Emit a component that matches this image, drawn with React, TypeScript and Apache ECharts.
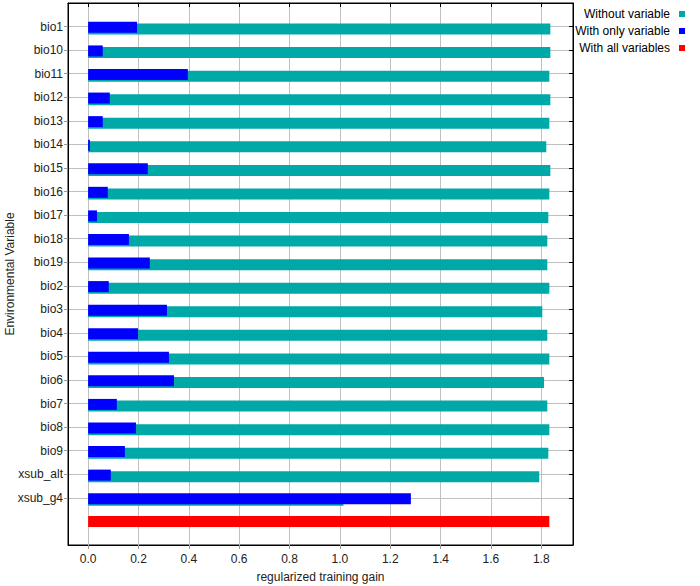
import React, { useEffect, useRef } from "react";
import * as echarts from "echarts";

const variables = [
  "bio1", "bio10", "bio11", "bio12", "bio13", "bio14", "bio15", "bio16", "bio17", "bio18",
  "bio19", "bio2", "bio3", "bio4", "bio5", "bio6", "bio7", "bio8", "bio9", "xsub_alt", "xsub_g4",
];
const withoutVariable = [
  1.836, 1.836, 1.832, 1.836, 1.832, 1.82, 1.836, 1.832, 1.828, 1.824,
  1.824, 1.832, 1.804, 1.824, 1.832, 1.811, 1.824, 1.832, 1.828, 1.792, 1.014,
];
const withOnlyVariable = [
  0.194, 0.058, 0.396, 0.086, 0.058, 0.007, 0.237, 0.078, 0.035, 0.162,
  0.245, 0.082, 0.313, 0.198, 0.321, 0.341, 0.114, 0.19, 0.146, 0.09, 1.282,
];
const withAllVariables = 1.832;
const seriesNames = ["Without variable", "With only variable", "With all variables"];
const colors = ["#00a8a8", "#0000ff", "#ff0000"];

export default function App() {
  const ref = useRef<HTMLDivElement>(null);
  useEffect(() => {
    if (!ref.current) return;
    const chart = echarts.init(ref.current, undefined, { renderer: "svg" });
    const font = "'Liberation Sans', Arial, sans-serif";
    // category rows: a padding row, the variables, the all-variables row, a padding row
    const cats = ["_padTop", ...variables, "_all", "_padBottom"];
    const isVar = (i: number) => i >= 1 && i <= variables.length;
    const padded = (arr: number[]) => ["-", ...arr, "-", "-"];
    const allData = cats.map((c) => (c === "_all" ? withAllVariables : "-"));

    const yBase = {
      type: "category" as const,
      data: cats,
      inverse: true,
      boundaryGap: false,
    };
    const xBase = {
      type: "value" as const,
      min: -0.08,
      max: 1.926,
      splitNumber: 10,
      minInterval: 0.2,
      maxInterval: 0.2,
    };

    chart.setOption({
      animation: false,
      backgroundColor: "#ffffff",
      textStyle: { fontFamily: font },
      grid: {
        left: 68,
        right: 127,
        top: 3,
        bottom: 41,
        outerBoundsMode: "none",
        containLabel: false,
        show: true,
        borderColor: "#000",
        borderWidth: 1,
        backgroundColor: "#fff",
      },
      legend: {
        orient: "vertical",
        right: 10,
        top: 3,
        align: "right",
        itemGap: 5,
        itemWidth: 6,
        itemHeight: 6,
        icon: "rect",
        selectedMode: false,
        data: seriesNames,
        textStyle: { fontFamily: font, fontSize: 12, color: "#000", padding: [0, 4, 0, 0] },
      },
      xAxis: [
        {
          ...xBase,
          position: "bottom",
          name: "regularized training gain",
          nameLocation: "middle",
          nameGap: 26,
          nameMoveOverlap: false,
          nameTextStyle: { fontFamily: font, fontSize: 12, color: "#222" },
          axisLine: { show: true, onZero: false, lineStyle: { color: "#000", width: 1 } },
          axisTick: { show: true, inside: false, length: 4, lineStyle: { color: "#999" } },
          axisLabel: {
            show: true,
            margin: 8,
            fontSize: 12,
            fontFamily: font,
            color: "#222",
            showMinLabel: false,
            showMaxLabel: false,
            formatter: (v: number) => v.toFixed(1),
          },
          splitLine: { show: true, lineStyle: { color: "#c0c0c0", width: 1 } },
        },
        {
          ...xBase,
          position: "top",
          axisLine: { show: true, onZero: false, lineStyle: { color: "#000", width: 1 } },
          axisTick: { show: true, inside: true, length: 4, lineStyle: { color: "#000" } },
          axisLabel: { show: false },
          splitLine: { show: false },
        },
      ],
      yAxis: [
        {
          ...yBase,
          position: "left",
          name: "Environmental Variable",
          nameLocation: "middle",
          nameGap: 52,
          nameMoveOverlap: false,
          nameTextStyle: { fontFamily: font, fontSize: 12, color: "#222" },
          axisLine: { show: true, onZero: false, lineStyle: { color: "#000", width: 1 } },
          axisTick: { show: true, inside: false, length: 4, interval: (i: number) => isVar(i), lineStyle: { color: "#999" } },
          axisLabel: {
            show: true,
            margin: 5,
            fontSize: 12,
            fontFamily: font,
            color: "#222",
            interval: (i: number) => isVar(i),
            formatter: (v: string) => (v.startsWith("_") ? "" : v),
          },
          splitLine: { show: true, interval: (i: number) => isVar(i), lineStyle: { color: "#c0c0c0", width: 1 } },
        },
        {
          ...yBase,
          position: "right",
          axisLine: { show: true, onZero: false, lineStyle: { color: "#000", width: 1 } },
          axisTick: { show: true, inside: true, length: 4, interval: (i: number) => isVar(i), lineStyle: { color: "#000" } },
          axisLabel: { show: false },
          splitLine: { show: false },
        },
      ],
      series: [
        {
          name: "_offset",
          type: "bar",
          xAxisIndex: 0,
          yAxisIndex: 0,
          data: [],
          barWidth: 21.7,
          barGap: "-85%",
          silent: true,
          itemStyle: { color: "rgba(0,0,0,0)" },
        },
        {
          name: seriesNames[1],
          type: "bar",
          xAxisIndex: 0,
          yAxisIndex: 0,
          data: padded(withOnlyVariable),
          barWidth: 11,
          barGap: "-85%",
          z: 4,
          itemStyle: { color: colors[1] },
        },
        {
          name: seriesNames[0],
          type: "bar",
          xAxisIndex: 0,
          yAxisIndex: 0,
          data: padded(withoutVariable),
          barWidth: 11,
          barGap: "-85%",
          z: 3,
          itemStyle: { color: colors[0] },
        },
        {
          name: seriesNames[2],
          type: "bar",
          xAxisIndex: 0,
          yAxisIndex: 1,
          data: allData,
          barWidth: 11,
          z: 3,
          itemStyle: { color: colors[2] },
        },
      ],
    });
    return () => chart.dispose();
  }, []);
  return (
    <div
      ref={ref}
      style={{ position: "fixed", left: 0, top: 0, width: 700, height: 586, background: "#fff" }}
    />
  );
}
